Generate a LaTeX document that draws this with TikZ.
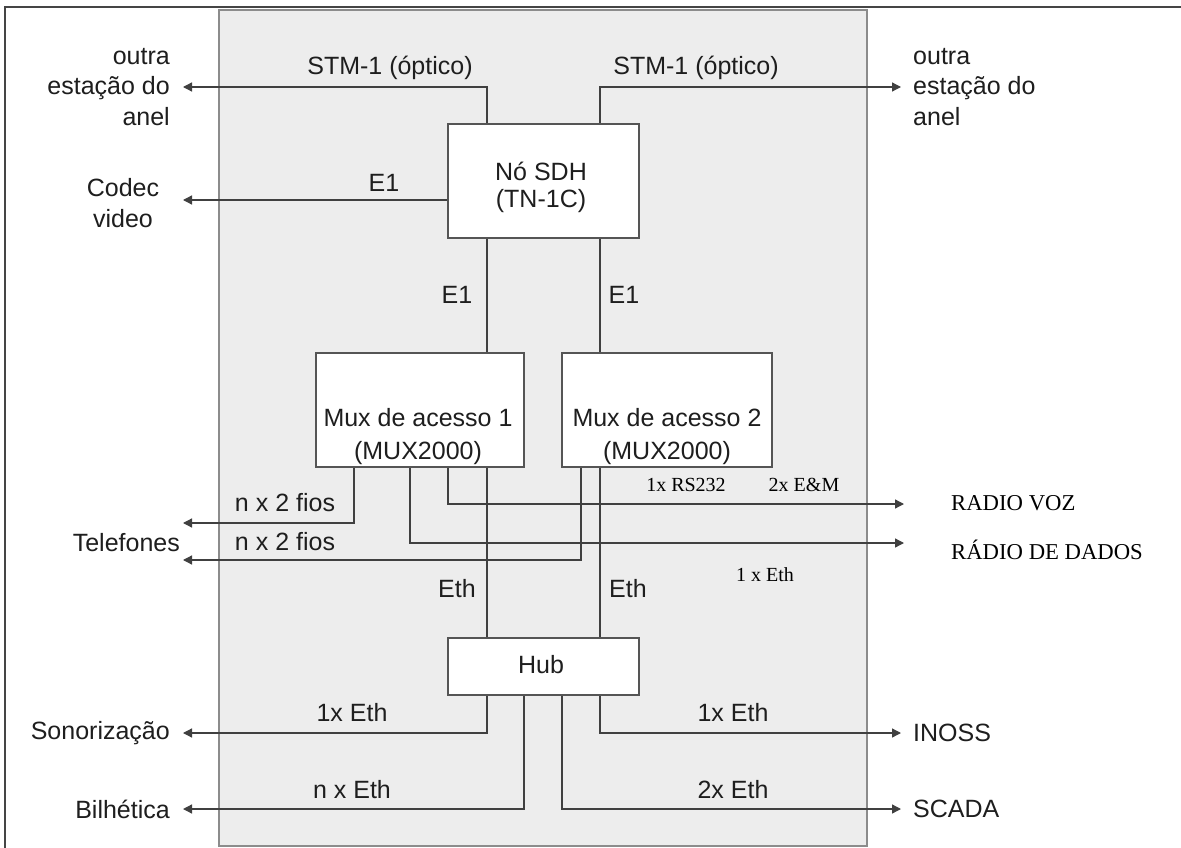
\documentclass[tikz,border=0pt]{standalone}
\usepackage{fontspec}
\setmainfont{Liberation Serif}
\setsansfont{Liberation Sans}
\usetikzlibrary{arrows.meta}
\definecolor{panel}{HTML}{EDEDED}
\definecolor{panelline}{HTML}{8C8C8C}
\definecolor{linec}{HTML}{404040}
\definecolor{boxc}{HTML}{555555}
\definecolor{txtc}{HTML}{1E1E1E}
\definecolor{framec}{HTML}{454545}
\newcommand\sflab{\sffamily\fontsize{25}{30.5}\selectfont}
\newcommand\serlab{\rmfamily\fontsize{20}{24}\selectfont}
\newcommand\serbig{\rmfamily\fontsize{22.7}{27}\selectfont}
\tikzset{
  box/.style={draw=boxc, fill=white, line width=1.6pt, inner sep=0pt},
  link/.style={draw=linec, line width=1.3pt},
  arr/.style={link, -{Triangle[length=9pt,width=9pt]}},
  lab/.style={font=\sflab, text=txtc, inner sep=0pt},
  slab/.style={font=\serlab, text=black, inner sep=0pt},
  blab/.style={font=\serbig, text=black, inner sep=0pt},
}
\begin{document}
\begin{tikzpicture}[x=1pt,y=-1pt]
\useasboundingbox (0,0) rectangle (1181,848);
\fill[white] (0,0) rectangle (1181,848);
% outer frame
\draw[framec, line width=2.5pt] (5,850) -- (5,7) -- (1183,7);
% panel
\draw[panelline, fill=panel, line width=1.8pt] (219,10) rectangle (867,846);

% arrow tips
\coordinate (tL1) at (183,87);
\coordinate (tR1) at (901,87);
\coordinate (tL2) at (183,200);
\coordinate (tL3) at (183,523);
\coordinate (tL4) at (183,560);
\coordinate (tR2) at (904,504);
\coordinate (tR3) at (904,543);
\coordinate (tL5) at (183,733);
\coordinate (tL6) at (183,809);
\coordinate (tR4) at (901,733);
\coordinate (tR5) at (901,809);

% boxes (positions)
\path (543.5,181) coordinate (csdh);
\path (420,410) coordinate (cmux1);
\path (667,410) coordinate (cmux2);
\path (543.5,666.5) coordinate (chub);

\node[box, minimum width=191pt, minimum height=114pt] (sdh) at (csdh) {};
\node[box, minimum width=208pt, minimum height=114pt] (mux1) at (cmux1) {};
\node[box, minimum width=210pt, minimum height=114pt] (mux2) at (cmux2) {};
\node[box, minimum width=191pt, minimum height=57pt] (hub) at (chub) {};

% connectors
\draw[arr] (487,0 |- sdh.north) |- (tL1);
\draw[arr] (600,0 |- sdh.north) |- (tR1);
\draw[arr] (sdh.west |- 0,200) -- (tL2);
\draw[link] (487,0 |- sdh.south) -- (487,0 |- mux1.north);
\draw[link] (600,0 |- sdh.south) -- (600,0 |- mux2.north);
\draw[arr] (354,0 |- mux1.south) |- (tL3);
\draw[arr] (410,0 |- mux1.south) |- (tR3);
\draw[arr] (448,0 |- mux1.south) |- (tR2);
\draw[link] (487,0 |- mux1.south) -- (487,0 |- hub.north);
\draw[arr] (581,0 |- mux2.south) |- (tL4);
\draw[link] (600,0 |- mux2.south) -- (600,0 |- hub.north);
\draw[arr] (487,0 |- hub.south) |- (tL5);
\draw[arr] (524,0 |- hub.south) |- (tL6);
\draw[arr] (562,0 |- hub.south) |- (tR5);
\draw[arr] (600,0 |- hub.south) |- (tR4);

% redraw boxes on top
\node[box, minimum width=191pt, minimum height=114pt] at (csdh) {};
\node[box, minimum width=208pt, minimum height=114pt] at (cmux1) {};
\node[box, minimum width=210pt, minimum height=114pt] at (cmux2) {};
\node[box, minimum width=191pt, minimum height=57pt] at (chub) {};

% box texts
\node[lab, align=center, font=\sffamily\fontsize{25}{27}\selectfont] (sdht) at (541,187) {Nó SDH\\(TN-1C)};
\node[lab, align=center, font=\sffamily\fontsize{25}{33}\selectfont] (mux1t) at (418,437) {Mux de acesso 1\\(MUX2000)};
\node[lab, align=center, font=\sffamily\fontsize{25}{33}\selectfont] (mux2t) at (667,437) {Mux de acesso 2\\(MUX2000)};
\node[lab] (hubt) at (541,665) {Hub};

% labels
\node[lab, align=right, anchor=east] (estL) at (170,87) {outra\\estação do\\anel};
\node[lab, align=left, anchor=west] (estR) at (913,87) {outra\\estação do\\anel};
\node[lab] (stmL) at (390,68) {STM-1 (óptico)};
\node[lab] (stmR) at (696,68) {STM-1 (óptico)};
\node[lab] (e1a) at (384,183) {E1};
\node[lab, align=center] (codec) at (123,203) {Codec\\video};
\node[lab] (e1b) at (457,295) {E1};
\node[lab] (e1c) at (624,295) {E1};
\node[lab] (fios1) at (285,503) {n x 2 fios};
\node[lab] (fios2) at (285,542) {n x 2 fios};
\node[lab, anchor=east] (tel) at (180,543) {Telefones};
\node[lab] (eth1) at (457,589) {Eth};
\node[lab] (eth2) at (628,589) {Eth};
\node[slab] (rs) at (686,485) {1x RS232};
\node[slab] (em) at (804,485) {2x E\&M};
\node[blab, anchor=west] (voz) at (951,503) {RADIO VOZ};
\node[blab, anchor=west] (dados) at (951,550) {RÁDIO DE DADOS};
\node[slab] (eth3) at (765,575) {1 x Eth};
\node[lab] (e4) at (352,713) {1x Eth};
\node[lab] (e5) at (733,713) {1x Eth};
\node[lab] (e6) at (352,790) {n x Eth};
\node[lab] (e7) at (733,790) {2x Eth};
\node[lab, anchor=east] (son) at (170,733) {Sonorização};
\node[lab, anchor=east] (bil) at (170,809) {Bilhética};
\node[lab, anchor=west] (inoss) at (913,733) {INOSS};
\node[lab, anchor=west] (scada) at (913,809) {SCADA};
\end{tikzpicture}
\end{document}
